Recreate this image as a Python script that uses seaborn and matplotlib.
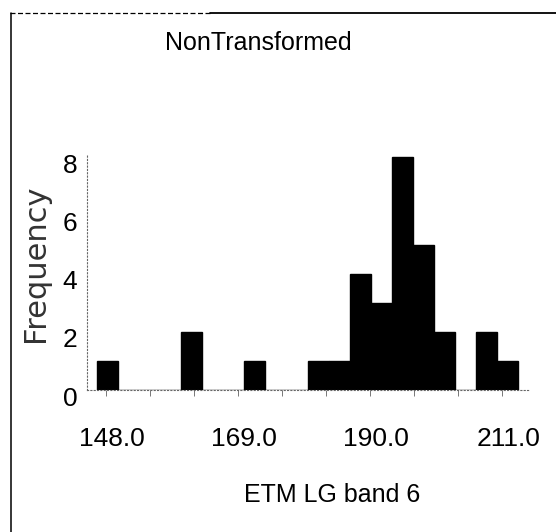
import numpy as np
import pandas as pd
import matplotlib
matplotlib.use("Agg")
import matplotlib.pyplot as plt
from matplotlib.ticker import FixedLocator, MultipleLocator, FormatStrFormatter
from matplotlib.transforms import ScaledTranslation
from matplotlib.lines import Line2D
import seaborn as sns

# Histogram of ETM LG band 6 (non-transformed values)
bin_lo, bin_hi = 145.6, 212.6
counts = [1, 0, 0, 0, 2, 0, 0, 1, 0, 0, 1, 1, 4, 3, 8, 5, 2, 0, 2, 1]
x_tick_values = [148.0, 169.0, 190.0, 211.0]
y_tick_values = [0, 2, 4, 6, 8]
title = "NonTransformed"
x_label = "ETM LG band 6"
y_label = "Frequency"

sns.set_style("white")
plt.rcParams["font.family"] = ["Liberation Sans", "DejaVu Sans"]
for key in ("text.color", "axes.labelcolor", "xtick.labelcolor", "ytick.labelcolor"):
    plt.rcParams[key] = "black"

edges = np.linspace(bin_lo, bin_hi, len(counts) + 1)
df = pd.DataFrame({"band6": (edges[:-1] + edges[1:]) / 2, "count": counts})

W, H = 556, 532
fig = plt.figure(figsize=(W / 100, H / 100), dpi=100)
ax = fig.add_axes([87 / W, 1 - 390 / H, (530 - 87) / W, (390 - 150) / H])

sns.histplot(data=df, x="band6", weights="count", bins=edges.tolist(),
             color="black", alpha=1.0, edgecolor="black", linewidth=1.0, ax=ax)

ax.set_xlim(144.03, 214.45)
ax.set_ylim(0, 240 / 29.1)

# axes lines drawn as faint dotted rules
for side in ("top", "right"):
    ax.spines[side].set_visible(False)
for side in ("left", "bottom"):
    ax.spines[side].set_linestyle((0, (1, 2)))
    ax.spines[side].set_linewidth(0.8)
    ax.spines[side].set_color("#666666")
ax.spines["left"].set_bounds(0, 8.1)

ax.xaxis.set_major_locator(FixedLocator(x_tick_values))
ax.xaxis.set_major_formatter(FormatStrFormatter("%.1f"))
ax.xaxis.set_minor_locator(MultipleLocator(7))
ax.yaxis.set_major_locator(FixedLocator(y_tick_values))
ax.tick_params(axis="x", which="major", length=0, pad=27, labelsize=19)
ax.tick_params(axis="x", which="minor", length=4, width=0.7, color="#777777",
               direction="out", bottom=True)
ax.tick_params(axis="y", which="major", length=0, pad=7, labelsize=19)
ax.grid(False)

# count labels sit a little below their gridline level
shift_down = ScaledTranslation(0, -6 / 100, fig.dpi_scale_trans)
for lab in ax.get_yticklabels():
    lab.set_transform(lab.get_transform() + shift_down)

ax.set_title(title, fontsize=18, x=(258 - 87) / 443, y=(390 - 51) / 240, va="center")
ax.set_xlabel(x_label, fontsize=18, va="center")
ax.xaxis.set_label_coords((332 - 87) / 443, (390 - 495) / 240)
ax.set_ylabel(y_label, fontsize=22, family="DejaVu Sans", color="#333333", va="center")
ax.yaxis.set_label_coords((36 - 87) / 443, (390 - 263) / 240)

# panel border along the top and left
fig.add_artist(Line2D([10 / W, 210 / W], [1 - 13 / H] * 2, color="black",
                      linewidth=0.9, linestyle=(0, (4, 2))))
fig.add_artist(Line2D([210 / W, 1.0], [1 - 13 / H] * 2, color="black", linewidth=1.3))
fig.add_artist(Line2D([11 / W] * 2, [1 - 13 / H, 0.0], color="black", linewidth=1.1))

fig.savefig("out.png", dpi=100, facecolor="white")
